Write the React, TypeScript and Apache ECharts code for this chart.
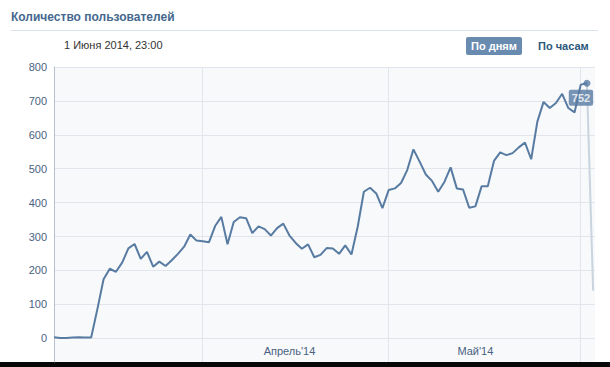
import React, { useEffect, useRef } from "react";
import * as echarts from "echarts";

// Daily user counts, starting 8 March 2014 (index 0)
const dayValues = [
  3, 1, 1, 2, 3, 2, 2,
  86, 174, 205, 196, 223, 265, 278, 234, 255, 211, 226, 213, 230, 249, 270,
  306, 288, 286, 283, 331, 358, 277, 343, 357, 354,
  310, 330, 322, 303, 325, 338, 303, 281, 264, 277,
  239, 246, 266, 265, 249, 274, 247, 328, 432, 444,
  427, 384, 437, 442, 458, 496, 557, 521, 483, 464,
  432, 461, 504, 442, 439, 385, 389, 448, 448, 523,
  548, 540, 546, 563, 577, 528, 639, 697, 679, 694,
  721, 679, 666, 748, 752,
];
const partialValue = 140; // current, incomplete day
const monthStarts = [24, 54, 85]; // 1 April, 1 May, 1 June
const monthLabelDays = [38, 68]; // 15 April, 15 May
const monthLabels = ["Апрель'14", "Май'14"];
const yTicks = [0, 100, 200, 300, 400, 500, 600, 700, 800];

const titleText = "Количество пользователей";
const dateText = "1 Июня 2014, 23:00";
const btnActive = "По дням";
const btnOther = "По часам";

const FONT = "'Liberation Sans', Arial, sans-serif";

export default function App() {
  const ref = useRef<HTMLDivElement>(null);

  useEffect(() => {
    document.body.style.margin = "0";
    if (!ref.current) return;
    const chart = echarts.init(ref.current, undefined, { renderer: "svg" });

    const lastIdx = dayValues.length - 1;
    const mainData = dayValues.map((v, i) => [i, v]);
    const partialData = [
      [lastIdx, dayValues[lastIdx]],
      [lastIdx + 1, partialValue],
    ];

    chart.setOption({
      animation: false,
      backgroundColor: "#ffffff",
      textStyle: { fontFamily: FONT },
      grid: {
        left: 54,
        right: 15,
        top: 67,
        bottom: 5,
        show: true,
        backgroundColor: "#f8f9fb",
        borderWidth: 0,
      },
      xAxis: {
        type: "value",
        min: 0,
        max: lastIdx + 1.3,
        axisLine: { show: false },
        axisTick: { show: false, customValues: monthStarts },
        splitLine: { show: true, lineStyle: { color: "#e2e6ec", width: 1 } },
        axisLabel: {
          customValues: monthLabelDays,
          inside: true,
          verticalAlign: "middle",
          margin: 11,
          color: "#4a6281",
          fontSize: 11,
          fontFamily: FONT,
          formatter: (v: number) => {
            const k = monthLabelDays.findIndex((c) => Math.abs(c - v) < 0.01);
            return k >= 0 ? monthLabels[k] : "";
          },
        },
      },
      yAxis: {
        type: "value",
        min: -70,
        max: 800,
        axisLine: { show: true, lineStyle: { color: "#b7c1cd", width: 1 } },
        axisTick: { show: false, customValues: yTicks },
        splitLine: { show: true, lineStyle: { color: "#e2e6ec", width: 1 } },
        axisLabel: {
          customValues: yTicks,
          margin: 7,
          color: "#4a6281",
          fontSize: 11,
          fontFamily: FONT,
        },
      },
      series: [
        {
          type: "line",
          data: mainData,
          showSymbol: false,
          symbol: "none",
          lineStyle: { color: "#587ba2", width: 2 },
          itemStyle: { color: "#587ba2" },
          z: 3,
        },
        {
          type: "line",
          data: partialData,
          showSymbol: false,
          symbol: "none",
          lineStyle: { color: "#c9d4df", width: 2 },
          z: 2,
        },
        {
          type: "scatter",
          data: [[lastIdx, dayValues[lastIdx]]],
          symbol: "circle",
          symbolSize: 7,
          itemStyle: { color: "#587ba2" },
          z: 5,
          label: {
            show: true,
            position: "bottom",
            distance: 3,
            offset: [-6, 0],
            formatter: (p: any) => String(p.value[1]),
            color: "#ffffff",
            fontWeight: "bold",
            fontSize: 11,
            fontFamily: FONT,
            backgroundColor: "#587ba2",
            padding: [3, 3, 2, 3],
            borderRadius: 2,
          },
        },
      ],
      graphic: [
        {
          type: "text",
          left: 11,
          top: 11,
          style: {
            text: titleText,
            fill: "#45688e",
            font: `bold 12px ${FONT}`,
          },
        },
        {
          type: "line",
          shape: { x1: 11, y1: 30.5, x2: 598, y2: 30.5 },
          style: { stroke: "#dae1e8", lineWidth: 1 },
        },
        {
          type: "text",
          left: 64,
          top: 39,
          style: {
            text: dateText,
            fill: "#333333",
            font: `11px ${FONT}`,
          },
        },
        {
          type: "rect",
          shape: { x: 466, y: 37, width: 56, height: 18, r: 2 },
          style: { fill: "#6a8bb0" },
        },
        {
          type: "text",
          x: 494,
          y: 46,
          style: {
            text: btnActive,
            fill: "#ffffff",
            font: `bold 11px ${FONT}`,
            align: "center",
            verticalAlign: "middle",
          },
        },
        {
          type: "text",
          x: 538,
          y: 46,
          style: {
            text: btnOther,
            fill: "#2b587a",
            font: `bold 11px ${FONT}`,
            verticalAlign: "middle",
          },
        },
        {
          type: "rect",
          shape: { x: 0, y: 362, width: 610, height: 5 },
          style: { fill: "#080808" },
        },
      ],
    });

    return () => chart.dispose();
  }, []);

  return (
    <div
      ref={ref}
      style={{ position: "fixed", left: 0, top: 0, width: 610, height: 367 }}
    />
  );
}
